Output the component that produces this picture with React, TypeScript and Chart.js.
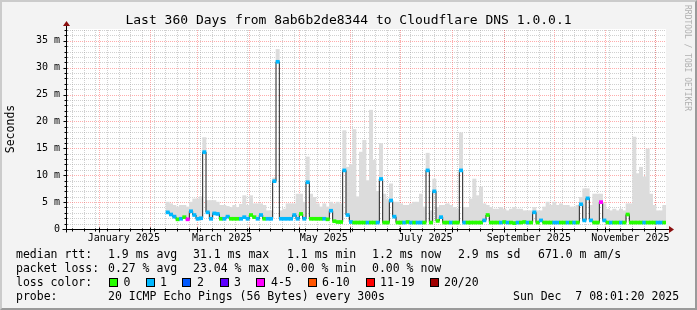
import React, { useEffect, useRef } from 'react';
import { Chart, registerables } from 'chart.js';

Chart.register(...registerables);

// ---------- text ----------
const TITLE = 'Last 360 Days from 8ab6b2de8344 to Cloudflare DNS 1.0.0.1';
const Y_TITLE = 'Seconds';
const WATERMARK = 'RRDTOOL / TOBI OETIKER';

// ---------- time axis ----------
const END_TIME_UTC = Date.UTC(2025, 11, 7, 8, 1, 20);
const SPAN_DAYS = 360;
const START_TIME_UTC = END_TIME_UTC - SPAN_DAYS * 86400000;

const monthStartDates = [
  '2025-01-01', '2025-02-01', '2025-03-01', '2025-04-01', '2025-05-01', '2025-06-01',
  '2025-07-01', '2025-08-01', '2025-09-01', '2025-10-01', '2025-11-01', '2025-12-01',
];
const monthLabelDates = ['2025-01-16', '2025-03-16', '2025-05-16', '2025-07-16', '2025-09-16', '2025-11-16'];
const monthLabelTexts = ['January 2025', 'March 2025', 'May 2025', 'July 2025', 'September 2025', 'November 2025'];
const firstWeekGridDate = '2024-12-16';

// ---------- value axis ----------
const Y_MAX_MS = 37.2;
const yTickValues = [0, 5, 10, 15, 20, 25, 30, 35];

// ---------- data: 2-day bins starting at day 60 of the window ----------
const dataStartDay = 60;
const binDays = 2;

const medianMs = [
  3.1, 2.7, 2.3, 1.8, 1.9, 2.2, 1.8, 3.3, 2.6, 1.9,
  2.0, 14.3, 3.1, 1.9, 2.9, 2.8, 1.9, 1.9, 2.3, 1.9,
  1.9, 1.9, 1.9, 2.2, 1.9, 2.6, 2.2, 1.9, 2.6, 1.9,
  1.9, 1.9, 8.9, 31.1, 1.9, 1.9, 1.9, 1.9, 2.6, 1.9,
  2.8, 1.9, 8.7, 1.9, 1.9, 1.9, 1.9, 1.9, 1.8, 3.4,
  1.45, 1.3, 1.3, 10.9, 2.6, 1.3, 1.2, 1.2, 1.2, 1.2,
  1.2, 1.2, 1.2, 1.2, 9.3, 1.2, 1.2, 5.3, 2.3, 1.2,
  1.2, 1.2, 1.3, 1.2, 1.2, 1.2, 1.2, 1.2, 10.9, 1.2,
  7.0, 1.5, 2.2, 1.2, 1.2, 1.2, 1.2, 1.2, 10.9, 1.2,
  1.2, 1.2, 1.2, 1.2, 1.2, 1.6, 2.6, 1.2, 1.2, 1.2,
  1.2, 1.3, 1.2, 1.2, 1.1, 1.2, 1.2, 1.3, 1.2, 1.2,
  3.1, 1.2, 1.6, 1.2, 1.2, 1.2, 1.2, 1.2, 1.2, 1.2,
  1.2, 1.2, 1.2, 1.2, 4.6, 1.6, 5.7, 1.6, 1.2, 1.2,
  5.0, 1.6, 1.2, 1.2, 1.2, 1.2, 1.2, 1.2, 2.7, 1.2,
  1.2, 1.2, 1.2, 1.2, 1.2, 1.2, 1.2, 1.2, 1.2, 1.2,
];

const smokeHighMs = [
  5.0, 4.7, 4.4, 4.1, 4.4, 4.4, 4.1, 5.0, 5.6, 5.6,
  6.0, 17.0, 5.3, 5.3, 5.3, 5.0, 4.4, 4.4, 4.2, 4.0,
  4.4, 4.0, 4.6, 6.2, 4.4, 6.2, 4.7, 4.7, 4.7, 4.4,
  3.4, 3.4, 9.5, 33.4, 3.4, 3.7, 4.7, 4.7, 4.7, 6.5,
  6.5, 5.0, 13.4, 6.5, 5.9, 4.7, 4.1, 4.7, 4.1, 5.0,
  4.7, 5.0, 4.7, 18.3, 11.5, 12.0, 18.5, 6.0, 14.3, 16.5,
  9.0, 22.1, 12.8, 7.0, 15.9, 6.5, 5.5, 8.4, 5.0, 5.0,
  4.7, 4.4, 4.4, 4.7, 5.0, 5.0, 6.5, 4.1, 14.1, 3.4,
  9.3, 4.0, 4.4, 4.4, 4.7, 4.4, 4.0, 3.7, 17.9, 4.0,
  4.0, 5.6, 9.3, 6.2, 7.8, 4.7, 4.4, 4.0, 3.7, 3.7,
  4.0, 3.7, 3.4, 3.7, 4.0, 3.7, 3.7, 3.4, 3.4, 3.4,
  4.0, 3.4, 3.4, 4.1, 5.0, 4.4, 5.0, 4.4, 4.7, 4.4,
  4.4, 4.1, 4.1, 4.4, 5.9, 7.5, 7.5, 4.4, 6.5, 6.5,
  6.5, 4.7, 3.7, 3.4, 3.7, 3.4, 3.7, 3.4, 4.7, 4.7,
  17.1, 10.3, 11.5, 9.7, 14.9, 6.5, 4.4, 3.4, 3.4, 4.4,
];

// lost pings (out of 20) per bin
const lossPings = [
  1, 1, 1, 0, 1, 0, 4, 1, 1, 1,
  1, 1, 1, 1, 1, 1, 0, 1, 1, 0,
  0, 0, 1, 1, 1, 0, 0, 1, 1, 0,
  1, 1, 1, 1, 1, 1, 1, 1, 1, 1,
  0, 1, 1, 0, 0, 0, 0, 1, 0, 1,
  0, 0, 0, 1, 1, 1, 0, 0, 0, 0,
  1, 0, 0, 1, 1, 0, 0, 1, 1, 0,
  0, 1, 0, 1, 0, 1, 1, 0, 1, 0,
  1, 0, 1, 0, 0, 1, 0, 0, 1, 1,
  0, 0, 0, 0, 0, 1, 0, 0, 0, 0,
  1, 0, 1, 0, 0, 1, 0, 0, 1, 0,
  1, 0, 1, 0, 0, 0, 1, 1, 0, 0,
  1, 0, 1, 0, 1, 1, 1, 1, 0, 0,
  4, 1, 0, 1, 0, 0, 1, 0, 0, 0,
  0, 0, 0, 1, 0, 0, 0, 1, 1, 0,
];

const lossLegendLabels = ['0', '1', '2', '3', '4-5', '6-10', '11-19', '20/20'];
const lossLegendMax = [0, 1, 2, 3, 5, 10, 19, 20];
const lossLegendColors = ['#26ff00', '#00b8ff', '#0059ff', '#5e00ff', '#ff00ff', '#ff5500', '#ff0000', '#a00000'];

const statsRtt = ['median rtt:', '1.9 ms avg', '31.1 ms max', '1.1 ms min', '1.2 ms now', '2.9 ms sd', '671.0 m am/s'];
const statsLoss = ['packet loss:', '0.27 % avg', '23.04 % max', '0.00 % min', '0.00 % now'];
const probeLabel = 'probe:';
const probeText = '20 ICMP Echo Pings (56 Bytes) every 300s';
const stampText = 'Sun Dec  7 08:01:20 2025';

// ---------- helpers ----------
const dayOf = (iso: string) => (Date.parse(iso + 'T00:00:00Z') - START_TIME_UTC) / 86400000;
const lossColor = (n: number) => {
  for (let i = 0; i < lossLegendMax.length; i++) if (n <= lossLegendMax[i]) return lossLegendColors[i];
  return lossLegendColors[lossLegendColors.length - 1];
};

const MONO = "'DejaVu Sans Mono', monospace";

const binCenters = medianMs.map((_, i) => dataStartDay + binDays * (i + 0.5));
const weekDays: number[] = [];
for (let d = dayOf(firstWeekGridDate); d < SPAN_DAYS; d += 7) weekDays.push(d);
const monthDays = monthStartDates.map(dayOf);
const labelDays = monthLabelDates.map(dayOf);

const rrdPlugin = {
  id: 'rrdFrame',
  beforeDraw(chart: any) {
    const { ctx, chartArea: a } = chart;
    ctx.save();
    ctx.fillStyle = '#ffffff';
    ctx.fillRect(a.left, a.top, a.right - a.left, a.bottom - a.top);
    ctx.restore();
  },
  beforeDatasetsDraw(chart: any) {
    const { ctx, chartArea: a } = chart;
    const xs = chart.scales.x;
    const ys = chart.scales.y;
    ctx.save();
    ctx.lineWidth = 1;
    ctx.setLineDash([1, 1]);
    ctx.strokeStyle = 'rgba(150,150,150,0.45)';
    ctx.beginPath();
    for (const d of weekDays) {
      const x = Math.round(xs.getPixelForValue(d)) + 0.5;
      if (x < a.left || x > a.right) continue;
      ctx.moveTo(x, a.bottom);
      ctx.lineTo(x, a.top);
    }
    for (let v = 1; v < Y_MAX_MS; v++) {
      if (v % 5 === 0) continue;
      const y = Math.round(ys.getPixelForValue(v)) + 0.5;
      ctx.moveTo(a.left, y);
      ctx.lineTo(a.right, y);
    }
    ctx.stroke();
    ctx.strokeStyle = 'rgba(255,70,70,0.45)';
    ctx.beginPath();
    for (const d of monthDays) {
      const x = Math.round(xs.getPixelForValue(d)) + 0.5;
      if (x < a.left || x > a.right) continue;
      ctx.moveTo(x, a.bottom);
      ctx.lineTo(x, a.top);
    }
    for (const v of yTickValues) {
      if (v === 0) continue;
      const y = Math.round(ys.getPixelForValue(v)) + 0.5;
      ctx.moveTo(a.left, y);
      ctx.lineTo(a.right, y);
    }
    ctx.stroke();
    ctx.restore();
  },
  afterDatasetsDraw(chart: any) {
    const { ctx, chartArea: a } = chart;
    const xs = chart.scales.x;
    const ys = chart.scales.y;
    const ax = Math.round(a.left) + 0.5;
    const ay = Math.round(a.bottom) + 0.5;
    ctx.save();
    ctx.setLineDash([]);
    ctx.lineWidth = 1;
    ctx.strokeStyle = '#000000';
    ctx.beginPath();
    ctx.moveTo(ax - 4, ay);
    ctx.lineTo(a.right + 3, ay);
    ctx.moveTo(ax, ay + 3);
    ctx.lineTo(ax, a.top - 4);
    for (const d of weekDays) {
      const x = Math.round(xs.getPixelForValue(d)) + 0.5;
      if (x < a.left || x > a.right) continue;
      ctx.moveTo(x, ay - 1);
      ctx.lineTo(x, ay + 2);
    }
    for (const d of monthDays) {
      const x = Math.round(xs.getPixelForValue(d)) + 0.5;
      if (x < a.left || x > a.right) continue;
      ctx.moveTo(x, ay - 2);
      ctx.lineTo(x, ay + 3);
    }
    for (let v = 1; v < Y_MAX_MS; v++) {
      const y = Math.round(ys.getPixelForValue(v)) + 0.5;
      const len = v % 5 === 0 ? 3 : 2;
      ctx.moveTo(ax - len, y);
      ctx.lineTo(ax + 1, y);
    }
    ctx.stroke();
    ctx.fillStyle = '#8b1010';
    ctx.beginPath();
    ctx.moveTo(a.right + 3, ay - 3.5);
    ctx.lineTo(a.right + 8, ay);
    ctx.lineTo(a.right + 3, ay + 3.5);
    ctx.closePath();
    ctx.fill();
    ctx.beginPath();
    ctx.moveTo(ax - 3.5, a.top - 3);
    ctx.lineTo(ax, a.top - 8);
    ctx.lineTo(ax + 3.5, a.top - 3);
    ctx.closePath();
    ctx.fill();
    ctx.restore();
  },
};

function Txt(props: { x: number; y: number; size: number; text: string; color?: string }) {
  return (
    <div
      style={{
        position: 'absolute',
        left: props.x,
        top: props.y - props.size / 2,
        fontFamily: MONO,
        fontSize: props.size,
        lineHeight: props.size + 'px',
        whiteSpace: 'pre',
        color: props.color || '#000',
      }}
    >
      {props.text}
    </div>
  );
}

const rttX = [16, 108, 193, 287, 372, 458, 538];
const lossX = [16, 108, 193, 287, 372];
const swatchX = [109, 146, 182, 220, 256, 308, 366, 430];
const swatchTextX = [123.5, 160, 197, 234, 271, 322, 380, 444];

export default function App() {
  const canvasRef = useRef<HTMLCanvasElement>(null);

  useEffect(() => {
    const canvas = canvasRef.current;
    if (!canvas) return;
    const chart = new Chart(canvas, {
      type: 'bar',
      data: {
        datasets: [
          {
            type: 'bar',
            label: 'loss',
            data: medianMs.map((m, i) => ({ x: binCenters[i], y: [m - 0.28, m + 0.28] })) as any,
            backgroundColor: lossPings.map(lossColor),
            borderWidth: 0,
            barPercentage: 1,
            categoryPercentage: 1,
            grouped: false,
            order: 1,
          } as any,
          {
            type: 'line',
            label: 'median',
            data: medianMs.map((m, i) => ({ x: binCenters[i], y: m })) as any,
            borderColor: '#202020',
            borderWidth: 1,
            pointRadius: 0,
            stepped: 'middle',
            fill: false,
            order: 2,
          } as any,
          {
            type: 'bar',
            label: 'smoke',
            data: medianMs.map((m, i) => ({ x: binCenters[i], y: [m, smokeHighMs[i]] })) as any,
            backgroundColor: '#dcdcdc',
            borderWidth: 0,
            barPercentage: 1,
            categoryPercentage: 1,
            grouped: false,
            order: 3,
          } as any,
        ],
      },
      options: {
        responsive: false,
        animation: false,
        devicePixelRatio: 1,
        layout: { padding: { left: 0, right: 31, top: 29, bottom: 0 } },
        plugins: {
          legend: { display: false },
          tooltip: { enabled: false },
          title: { display: false },
        },
        scales: {
          x: {
            type: 'linear',
            min: 0,
            max: SPAN_DAYS,
            offset: false,
            grid: { display: false, drawTicks: false },
            border: { display: false },
            ticks: {
              autoSkip: false,
              maxRotation: 0,
              padding: 3,
              color: '#000',
              font: { family: MONO, size: 10 },
              callback: (_v: any, idx: number) => monthLabelTexts[idx],
            },
            afterBuildTicks: (s: any) => {
              s.ticks = labelDays.map((v) => ({ value: v }));
            },
            afterFit: (s: any) => {
              s.height = 81;
            },
          },
          y: {
            type: 'linear',
            min: 0,
            max: Y_MAX_MS,
            grid: { display: false, drawTicks: false },
            border: { display: false },
            ticks: {
              padding: 6,
              color: '#000',
              font: { family: MONO, size: 10 },
              callback: (v: any) => (v === 0 ? '0' : v + ' m'),
            },
            title: {
              display: true,
              text: Y_TITLE,
              color: '#000',
              font: { family: MONO, size: 11.5 },
              padding: { top: 4, bottom: 4 },
            },
            afterBuildTicks: (s: any) => {
              s.ticks = yTickValues.map((v) => ({ value: v }));
            },
            afterFit: (s: any) => {
              s.width = 66;
            },
          },
        },
      } as any,
      plugins: [rrdPlugin],
    });
    return () => chart.destroy();
  }, []);

  return (
    <div style={{ position: 'absolute', left: 0, top: 0, width: 697, height: 310, background: '#f3f3f3', overflow: 'hidden' }}>
      <canvas ref={canvasRef} width={697} height={310} style={{ position: 'absolute', left: 0, top: 0, width: 697, height: 310 }} />
      <div
        style={{
          position: 'absolute', left: 0, top: 19 - 6.5, width: 697, textAlign: 'center',
          fontFamily: MONO, fontSize: 13, lineHeight: '13px', whiteSpace: 'pre', color: '#000',
        }}
      >
        {TITLE}
      </div>
      <div
        style={{
          position: 'absolute', left: 682.5, top: 5, fontFamily: MONO, fontSize: 8, lineHeight: '8px',
          writingMode: 'vertical-rl', whiteSpace: 'pre', color: '#b0b0b0',
        }}
      >
        {WATERMARK}
      </div>
      {statsRtt.map((t, i) => <Txt key={'r' + i} x={rttX[i]} y={254.5} size={11.5} text={t} />)}
      {statsLoss.map((t, i) => <Txt key={'l' + i} x={lossX[i]} y={268.5} size={11.5} text={t} />)}
      <Txt x={16} y={282.5} size={11.5} text="loss color:" />
      {lossLegendLabels.map((t, i) => (
        <React.Fragment key={'s' + i}>
          <div
            style={{
              position: 'absolute', left: swatchX[i], top: 278, width: 9, height: 9, boxSizing: 'border-box',
              border: '1px solid #000', background: lossLegendColors[i],
            }}
          />
          <Txt x={swatchTextX[i]} y={282.5} size={11.5} text={t} />
        </React.Fragment>
      ))}
      <Txt x={16} y={296.5} size={11.5} text={probeLabel} />
      <Txt x={108} y={296.5} size={11.5} text={probeText} />
      <Txt x={513} y={296.5} size={11.5} text={stampText} />
      <div
        style={{
          position: 'absolute', left: 0, top: 0, width: 697, height: 310, boxSizing: 'border-box',
          borderTop: '2px solid #cbcbcb', borderLeft: '2px solid #cbcbcb',
          borderRight: '2px solid #9a9a9a', borderBottom: '2px solid #9a9a9a', pointerEvents: 'none',
        }}
      />
    </div>
  );
}
